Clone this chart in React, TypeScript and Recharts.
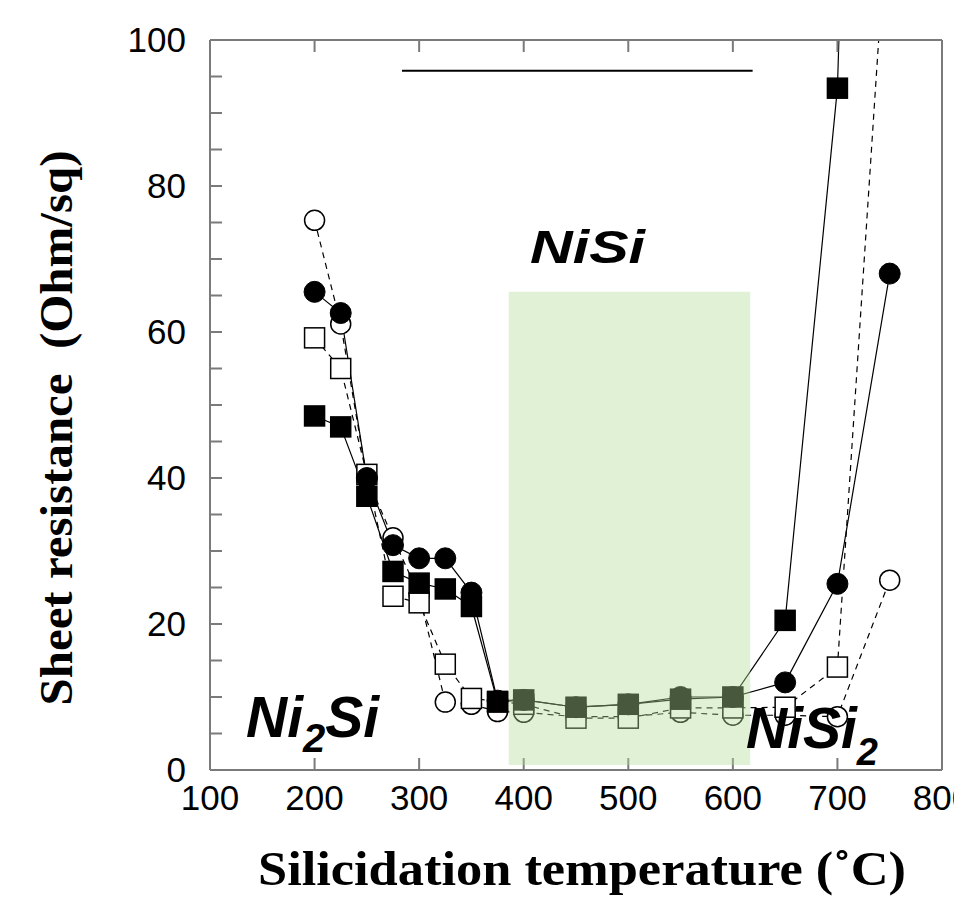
import React from "react";
import {
  LineChart,
  Line,
  XAxis,
  YAxis,
  ReferenceArea,
  ReferenceLine,
} from "recharts";

// silicidation temperature (C)
const temps = [200, 225, 250, 275, 300, 325, 350, 375, 400, 450, 500, 550, 600, 650, 700, 750];

// sheet resistance (Ohm/sq), four samples
const openCircle = [75.3, 61.1, 40, 31.8, 24, 9.3, 9, 8, 7.9, 7.3, 7.3, 7.9, 7.5, 7.5, 7.3, 26];
const filledCircle = [65.5, 62.6, 40, 30.8, 29, 29, 24.3, 9.5, 9.6, 8.6, 9, 10, 10, 12, 25.5, 68];
const openSquare = [59.2, 55, 40.5, 23.8, 22.9, 14.5, 9.8, 9.4, 9, 7.1, 7.1, 8.5, 8.5, 8.6, 14.1, 123];
const filledSquare = [48.5, 47, 37.5, 27.2, 25.6, 24.8, 22.4, 9.3, 9.6, 8.6, 9, 9.7, 10, 20.5, 93.4, 330];

const xTicks = [100, 200, 300, 400, 500, 600, 700, 800];
const yMinorTicks = [0, 5, 10, 15, 20, 25, 30, 35, 40, 45, 50, 55, 60, 65, 70, 75, 80, 85, 90, 95, 100];
const yMajorTicks = [0, 20, 40, 60, 80, 100];

// NiSi window and the bar above it
const nisiWindow = { x1: 385.7, x2: 616.6, y1: 0.7, y2: 65.5 };
const nisiBar = { x1: 283.6, x2: 618.9, y: 95.8 };

const data = temps.map((t, i) => ({
  t,
  oc: openCircle[i],
  fc: filledCircle[i],
  os: openSquare[i],
  fs: filledSquare[i],
}));

const AXIS = "#7a7a7a";
const tickFont = { fontFamily: "'Liberation Sans', Arial, sans-serif", fontSize: 35, fill: "#000" };

const squareDot = (filled: boolean) => (p: any) => (
  <rect
    key={`sq-${filled ? "f" : "o"}-${p.index}`}
    x={p.cx - 10}
    y={p.cy - 10}
    width={20}
    height={20}
    fill={filled ? "#000" : "#fff"}
    stroke="#000"
    strokeWidth={1.5}
  />
);

const App = () => {
  return (
    <div style={{ position: "relative", width: 954, height: 890 }}>
      <LineChart
        width={954}
        height={890}
        data={data}
        margin={{ top: 31, right: 18, bottom: 0, left: 0 }}
      >
        <XAxis
          xAxisId="b"
          dataKey="t"
          type="number"
          domain={[100, 800]}
          ticks={xTicks}
          allowDataOverflow
          height={128}
          stroke={AXIS}
          strokeWidth={2}
          tickSize={-12}
          tickMargin={27}
          tick={tickFont}
          interval={0}
        />
        <XAxis
          xAxisId="t"
          orientation="top"
          dataKey="t"
          type="number"
          domain={[100, 800]}
          ticks={xTicks}
          allowDataOverflow
          height={1}
          stroke={AXIS}
          strokeWidth={2}
          tickSize={-12}
          tickFormatter={() => ""}
          interval={0}
        />
        <YAxis
          yAxisId="l"
          type="number"
          domain={[0, 100]}
          ticks={yMinorTicks}
          allowDataOverflow
          width={202}
          stroke={AXIS}
          strokeWidth={2}
          tickSize={-12}
          tickMargin={36}
          tick={tickFont}
          tickFormatter={(v: number) => (v % 20 === 0 ? String(v) : "")}
          interval={0}
        />
        <YAxis
          yAxisId="r"
          orientation="right"
          type="number"
          domain={[0, 100]}
          ticks={yMinorTicks}
          width={1}
          stroke={AXIS}
          strokeWidth={2}
          tickSize={-7}
          tickFormatter={() => ""}
          interval={0}
        />
        <YAxis
          yAxisId="r2"
          orientation="right"
          type="number"
          domain={[0, 100]}
          ticks={yMajorTicks}
          width={1}
          axisLine={false}
          stroke={AXIS}
          strokeWidth={2}
          tickSize={-14}
          tickFormatter={() => ""}
          interval={0}
        />

        <Line
          xAxisId="b"
          yAxisId="l"
          dataKey="oc"
          stroke="#000"
          strokeWidth={1.2}
          strokeDasharray="6 5"
          dot={{ r: 10, fill: "#fff", stroke: "#000", strokeWidth: 1.5, strokeDasharray: "" }}
          isAnimationActive={false}
        />
        <Line
          xAxisId="b"
          yAxisId="l"
          dataKey="os"
          stroke="#000"
          strokeWidth={1.2}
          strokeDasharray="6 5"
          dot={squareDot(false)}
          isAnimationActive={false}
        />
        <Line
          xAxisId="b"
          yAxisId="l"
          dataKey="fc"
          stroke="#000"
          strokeWidth={1.2}
          dot={{ r: 10.5, fill: "#000", stroke: "#000", strokeWidth: 1 }}
          isAnimationActive={false}
        />
        <Line
          xAxisId="b"
          yAxisId="l"
          dataKey="fs"
          stroke="#000"
          strokeWidth={1.2}
          dot={squareDot(true)}
          isAnimationActive={false}
        />

        <ReferenceLine
          xAxisId="b"
          yAxisId="l"
          segment={[
            { x: nisiBar.x1, y: nisiBar.y },
            { x: nisiBar.x2, y: nisiBar.y },
          ]}
          stroke="#000"
          strokeWidth={2}
        />
        <ReferenceArea
          xAxisId="b"
          yAxisId="l"
          x1={nisiWindow.x1}
          x2={nisiWindow.x2}
          y1={nisiWindow.y1}
          y2={nisiWindow.y2}
          fill="#b5dc97"
          fillOpacity={0.4}
          stroke="none"
          zIndex={1000}
        />
      </LineChart>

      <svg
        width={954}
        height={890}
        style={{ position: "absolute", left: 0, top: 0, pointerEvents: "none" }}
      >
        <text
          x={64}
          y={420}
          transform="rotate(-90 64 420)"
          textAnchor="middle"
          textLength={555}
          lengthAdjust="spacingAndGlyphs"
          style={{
            fontFamily: "'Liberation Serif', 'Times New Roman', serif",
            fontWeight: 700,
            fontSize: 46,
            whiteSpace: "pre",
          }}
        >
          {"Sheet resistance  (Ohm/sq)"}
        </text>
        <text
          x={250}
          y={877}
          textLength={648}
          lengthAdjust="spacingAndGlyphs"
          style={{ fontFamily: "'Liberation Serif', 'Times New Roman', serif", fontWeight: 700, fontSize: 48 }}
        >
          Silicidation temperature (˚C)
        </text>
        <g style={{ fontFamily: "'Liberation Sans', Arial, sans-serif", fontWeight: 700, fontStyle: "italic" }}>
          <text x={522} y={255} fontSize={46} textLength={115} lengthAdjust="spacingAndGlyphs">
            NiSi
          </text>
          <text x={238} y={729} fontSize={57}>
            Ni<tspan fontSize={40} dy={15}>2</tspan>
            <tspan dy={-15}>Si</tspan>
          </text>
          <text x={738} y={740} fontSize={57}>
            NiSi<tspan fontSize={38} dy={17}>2</tspan>
          </text>
        </g>
      </svg>
    </div>
  );
};

export default App;
